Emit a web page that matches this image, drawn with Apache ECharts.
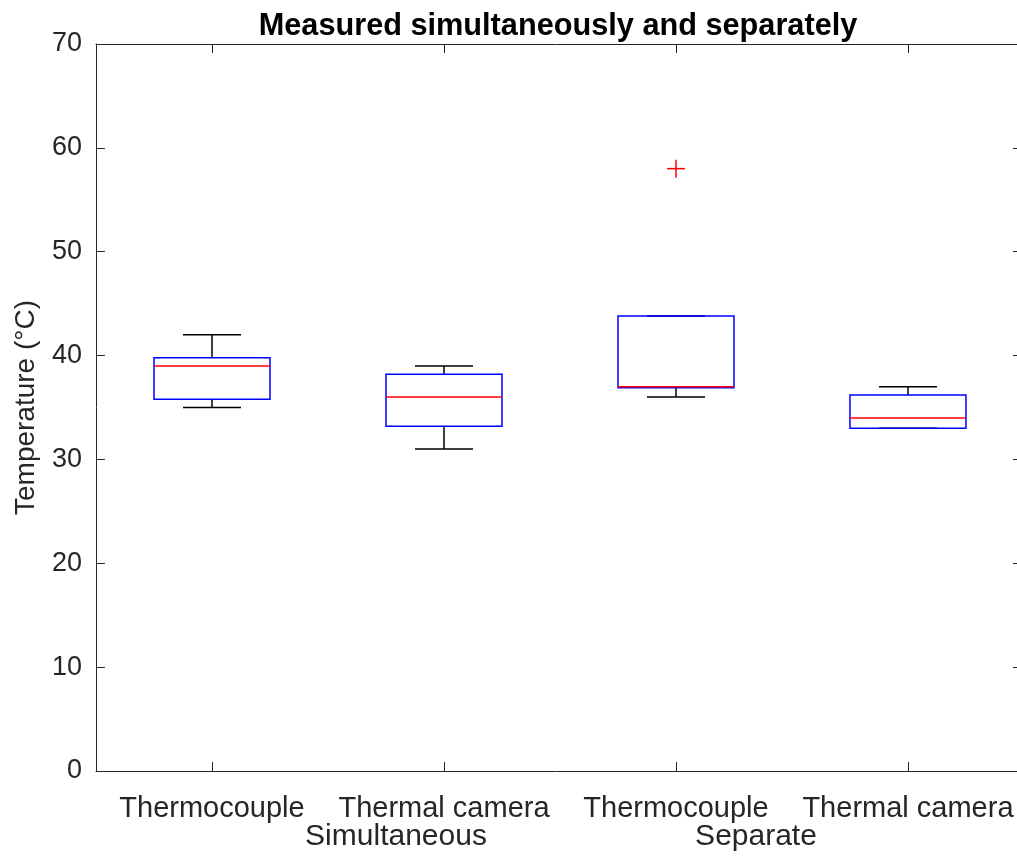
<!DOCTYPE html>
<html>
<head>
    <meta charset="UTF-8">
    <title>Measured simultaneously and separately</title>
    <script src="https://cdn.jsdelivr.net/npm/echarts@6/dist/echarts.min.js"></script>
    <style>
        html, body { margin: 0; padding: 0; background: #fff; }
        #main { width: 1017px; height: 863px; }
    </style>
</head>
<body>
<div id="main"></div>
<script type="text/javascript">
// categories on the x axis
var categories = ['Thermocouple', 'Thermal camera', 'Thermocouple', 'Thermal camera'];
var categoryPos = [0, 1, 2, 3];
var groupLabels = ['Simultaneous', 'Separate'];
var yTicks = [0, 10, 20, 30, 40, 50, 60, 70];

// box stats: [lower whisker, q1, median, q3, upper whisker]
var lowerWhisker = [35.0, 31.0, 36.0, 33.0];
var q1 = [35.8, 33.2, 36.9, 33.0];
var median = [39.0, 36.0, 37.0, 34.0];
var q3 = [39.8, 38.2, 43.8, 36.2];
var upperWhisker = [42.0, 39.0, 43.8, 37.0];

// outliers: [category index, value]
var outliers = [[2, 58.0]];

var boxData = [];
for (var i = 0; i < categories.length; i++) {
    boxData.push([categoryPos[i], lowerWhisker[i], q1[i], median[i], q3[i], upperWhisker[i]]);
}

var font = 'Arial, "Liberation Sans", Helvetica, sans-serif';
var axisColor = '#262626';

// the original axes run from 0.5 to 4.5 but are cut off at the right edge of the image
var xMin = -0.5;
var xMax = 3.47;

var myChart = echarts.init(document.getElementById('main'));

var option = {
    backgroundColor: '#fff',
    animation: false,
    title: {
        text: 'Measured simultaneously and separately',
        left: 553,
        textAlign: 'center',
        top: 6,
        textStyle: {
            fontFamily: font,
            fontSize: 30.7,
            fontWeight: 'bold',
            color: '#000'
        }
    },
    grid: {
        left: 96,
        top: 44,
        right: 0,
        bottom: 92
    },
    xAxis: [{
        type: 'value',
        min: xMin,
        max: xMax,
        position: 'bottom',
        axisLine: { show: true, onZero: false, lineStyle: { color: axisColor, width: 1 } },
        axisTick: { show: true, inside: true, length: 9, customValues: categoryPos, lineStyle: { color: axisColor } },
        axisLabel: {
            customValues: categoryPos,
            formatter: function (v) { return categories[Math.round(v)]; },
            fontFamily: font, fontSize: 29, color: axisColor, margin: 23
        },
        splitLine: { show: false }
    }, {
        type: 'value',
        min: xMin,
        max: xMax,
        position: 'top',
        axisLine: { show: true, onZero: false, lineStyle: { color: axisColor, width: 1 } },
        axisTick: { show: true, inside: true, length: 9, customValues: categoryPos, lineStyle: { color: axisColor } },
        axisLabel: { show: false },
        splitLine: { show: false }
    }],
    yAxis: [{
        type: 'value',
        min: yTicks[0],
        max: yTicks[yTicks.length - 1],
        interval: 10,
        name: 'Temperature (°C)',
        nameLocation: 'middle',
        nameGap: 56,
        nameTextStyle: { fontFamily: font, fontSize: 28, color: axisColor },
        axisLine: { show: true, onZero: false, lineStyle: { color: axisColor, width: 1 } },
        axisTick: { show: true, inside: true, length: 9, lineStyle: { color: axisColor } },
        axisLabel: { fontFamily: font, fontSize: 27, color: axisColor, margin: 14 },
        splitLine: { show: false }
    }, {
        // right edge of the box sits just outside the image, only the tick ends show
        type: 'value',
        position: 'right',
        offset: 5,
        min: yTicks[0],
        max: yTicks[yTicks.length - 1],
        interval: 10,
        axisLine: { show: false, onZero: false },
        axisTick: { show: true, inside: true, length: 9, lineStyle: { color: axisColor } },
        axisLabel: { show: false },
        splitLine: { show: false }
    }],
    graphic: [{
        type: 'text',
        x: 396,
        y: 837,
        style: {
            text: groupLabels[0],
            fontFamily: font,
            fontSize: 30,
            fill: axisColor,
            align: 'center',
            verticalAlign: 'middle'
        }
    }, {
        type: 'text',
        x: 756,
        y: 837,
        style: {
            text: groupLabels[1],
            fontFamily: font,
            fontSize: 30,
            fill: axisColor,
            align: 'center',
            verticalAlign: 'middle'
        }
    }],
    series: [{
        name: 'box',
        type: 'custom',
        xAxisIndex: 0,
        yAxisIndex: 0,
        data: boxData,
        encode: { x: 0, y: [1, 2, 3, 4, 5] },
        renderItem: function (params, api) {
            var x = api.value(0);
            var pLo = api.coord([x, api.value(1)]);
            var pQ1 = api.coord([x, api.value(2)]);
            var pMed = api.coord([x, api.value(3)]);
            var pQ3 = api.coord([x, api.value(4)]);
            var pHi = api.coord([x, api.value(5)]);
            var band = api.size([1, 0])[0];
            var half = band * 0.25;
            var cap = band * 0.125;
            var cx = pMed[0];
            var black = { stroke: '#000', lineWidth: 1.5 };
            return {
                type: 'group',
                children: [
                    // whiskers
                    { type: 'line', shape: { x1: cx, y1: pQ3[1], x2: cx, y2: pHi[1] }, style: black },
                    { type: 'line', shape: { x1: cx, y1: pQ1[1], x2: cx, y2: pLo[1] }, style: black },
                    { type: 'line', shape: { x1: cx - cap, y1: pHi[1], x2: cx + cap, y2: pHi[1] }, style: black },
                    { type: 'line', shape: { x1: cx - cap, y1: pLo[1], x2: cx + cap, y2: pLo[1] }, style: black },
                    // box
                    {
                        type: 'rect',
                        shape: { x: cx - half, y: pQ3[1], width: half * 2, height: pQ1[1] - pQ3[1] },
                        style: { fill: 'none', stroke: '#0000ff', lineWidth: 1.5 }
                    },
                    // median
                    {
                        type: 'line',
                        shape: { x1: cx - half, y1: pMed[1], x2: cx + half, y2: pMed[1] },
                        style: { stroke: '#ff0000', lineWidth: 1.5 }
                    }
                ]
            };
        }
    }, {
        name: 'outlier',
        type: 'custom',
        xAxisIndex: 0,
        yAxisIndex: 0,
        data: outliers,
        encode: { x: 0, y: 1 },
        renderItem: function (params, api) {
            var p = api.coord([api.value(0), api.value(1)]);
            var s = 9;
            var st = { stroke: '#ff0000', lineWidth: 1.5 };
            return {
                type: 'group',
                children: [
                    { type: 'line', shape: { x1: p[0] - s, y1: p[1], x2: p[0] + s, y2: p[1] }, style: st },
                    { type: 'line', shape: { x1: p[0], y1: p[1] - s, x2: p[0], y2: p[1] + s }, style: st }
                ]
            };
        }
    }]
};

myChart.setOption(option);
</script>
</body>
</html>
